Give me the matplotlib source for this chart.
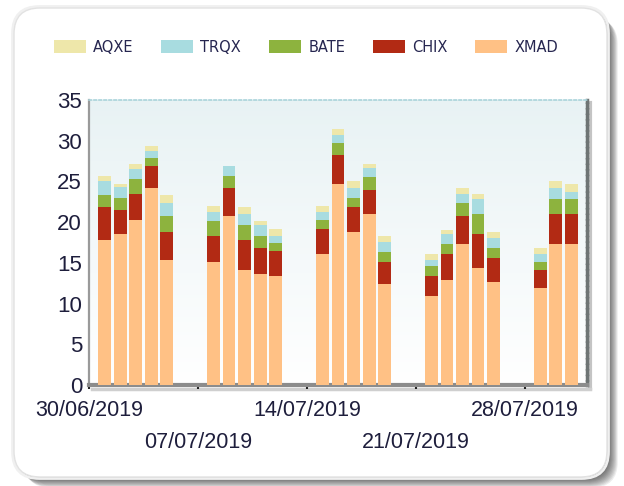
import matplotlib
matplotlib.use('Agg')
import matplotlib.pyplot as plt
import matplotlib.dates as mdates
from matplotlib.patches import FancyBboxPatch
import numpy as np
from datetime import datetime

# ---------------- data ----------------
dates = ["01/07/2019", "02/07/2019", "03/07/2019", "04/07/2019", "05/07/2019",
         "08/07/2019", "09/07/2019", "10/07/2019", "11/07/2019", "12/07/2019",
         "15/07/2019", "16/07/2019", "17/07/2019", "18/07/2019", "19/07/2019",
         "22/07/2019", "23/07/2019", "24/07/2019", "25/07/2019", "26/07/2019",
         "29/07/2019", "30/07/2019", "31/07/2019"]
xmad = [17.8, 18.55, 20.3, 24.2, 15.4,
        15.1, 20.8, 14.1, 13.6, 13.4,
        16.1, 24.7, 18.8, 21.0, 12.4,
        10.9, 12.9, 17.3, 14.4, 12.65,
        11.9, 17.3, 17.3]
chix = [4.0, 2.95, 3.2, 2.7, 3.4,
        3.2, 3.4, 3.75, 3.2, 3.0,
        3.0, 3.5, 3.0, 3.0, 2.7,
        2.5, 3.2, 3.5, 4.15, 2.95,
        2.2, 3.7, 3.7]
bate = [1.5, 1.5, 1.8, 1.0, 2.0,
        1.8, 1.5, 1.75, 1.5, 1.0,
        1.2, 1.5, 1.2, 1.5, 1.2,
        1.2, 1.2, 1.5, 2.45, 1.2,
        1.0, 1.8, 1.8]
trqx = [1.7, 1.3, 1.2, 0.8, 1.5,
        1.2, 1.2, 1.4, 1.3, 0.9,
        1.0, 1.0, 1.2, 1.2, 1.3,
        0.8, 1.25, 1.2, 1.8, 1.25,
        1.0, 1.4, 0.9]
aqxe = [0.7, 0.4, 0.7, 0.7, 1.0,
        0.7, 0.0, 0.8, 0.5, 0.8,
        0.7, 0.7, 0.8, 0.5, 0.7,
        0.7, 0.45, 0.7, 0.7, 0.75,
        0.7, 0.8, 1.0]
series_names = ["XMAD", "CHIX", "BATE", "TRQX", "AQXE"]
series_colors = ["#FFC185", "#B22A14", "#8DB33E", "#A8DCE0", "#EEE7AA"]
row1_ticks = ["30/06/2019", "14/07/2019", "28/07/2019"]
row2_ticks = ["07/07/2019", "21/07/2019"]
x_start, x_end = "30/06/2019", "01/08/2019"
y_ticks = [0, 5, 10, 15, 20, 25, 30, 35]

def d(s):
    return mdates.date2num(datetime.strptime(s, "%d/%m/%Y"))

# ---------------- figure ----------------
W, H = 624, 486
fig = plt.figure(figsize=(W / 100, H / 100), dpi=100)
fig.patch.set_facecolor('white')

bg = fig.add_axes([0, 0, 1, 1], zorder=0)
bg.set_xlim(0, W)
bg.set_ylim(H, 0)
bg.axis('off')
px0, py0, pw, ph = 14, 8, 593, 469
for i in range(1, 13):
    bg.add_patch(FancyBboxPatch((px0 + i * 0.9, py0 + i * 0.9), pw, ph,
                                boxstyle="round,pad=0,rounding_size=26",
                                fc='black', ec='none', alpha=0.07))
bg.add_patch(FancyBboxPatch((px0 - 1.5, py0 - 1.5), pw + 3, ph + 3,
                            boxstyle="round,pad=0,rounding_size=27",
                            fc='none', ec='#f0f0f0', lw=2.0))
bg.add_patch(FancyBboxPatch((px0, py0), pw, ph,
                            boxstyle="round,pad=0,rounding_size=26",
                            fc='white', ec='#e2e2e2', lw=1.0))

# plot area rect (pixels)
L, R, T, B = 89, 587, 100, 385
rect = [L / W, (H - B) / H, (R - L) / W, (B - T) / H]

gax = fig.add_axes(rect, zorder=1)
grad = np.linspace(0, 1, 256).reshape(-1, 1)
top_c = np.array([0.91, 0.95, 0.957])
bot_c = np.array([1.0, 1.0, 1.0])
img = top_c[None, None, :] * (1 - grad[:, :, None]) + bot_c[None, None, :] * grad[:, :, None]
gax.imshow(img, aspect='auto', extent=[0, 1, 0, 1])
gax.axis('off')

ax = fig.add_axes(rect, zorder=2)
ax.set_facecolor('none')

x = np.array([d(s) for s in dates])
values = [xmad, chix, bate, trqx, aqxe]
bottom = np.zeros(len(x))
handles = {}
for name, vals, col in zip(series_names, values, series_colors):
    vals = np.array(vals)
    bc = ax.bar(x, vals, bottom=bottom, width=0.82, color=col, edgecolor='none',
                label=name, zorder=3)
    handles[name] = bc
    bottom += vals

ax.set_xlim(d(x_start), d(x_end))
ax.set_ylim(0, 35)

tc = '#1e1e3c'
ax.set_yticks(y_ticks)
ax.set_yticklabels([str(v) for v in y_ticks], fontsize=16, color=tc,
                   family='Liberation Sans')
ax.tick_params(axis='y', length=0, pad=5)

ax.set_xticks([d(s) for s in row1_ticks])
ax.set_xticklabels(row1_ticks, fontsize=15.5, color=tc, family='Liberation Sans')
ax.set_xticks([d(s) for s in row2_ticks], minor=True)
ax.set_xticklabels(row2_ticks, minor=True, fontsize=15.5, color=tc,
                   family='Liberation Sans')
ax.tick_params(axis='x', which='major', length=3, width=1.5, color='#222222',
               direction='out', pad=8)
ax.tick_params(axis='x', which='minor', length=3, width=1.5, color='#222222',
               direction='out', pad=31)

ax.spines['left'].set_color('#9a9a9a')
ax.spines['left'].set_linewidth(1.6)
ax.spines['bottom'].set_color('#8c8c8c')
ax.spines['bottom'].set_linewidth(3)
ax.spines['top'].set_color('#a9d3da')
ax.spines['top'].set_linewidth(1.2)
ax.spines['top'].set_linestyle((0, (1.5, 1.5)))
ax.spines['right'].set_color('#6e7474')
ax.spines['right'].set_linewidth(2.5)
ax.spines['right'].set_linestyle((0, (1, 0.6)))

# shadow beside right border and under bottom axis
bg.plot([R + 3, R + 3], [T + 3, B + 3], color='#c4c4c4', lw=3, zorder=1)
bg.plot([L + 3, R + 3], [B + 3.5, B + 3.5], color='#cfcfcf', lw=2.5, zorder=1)

legend_order = ["AQXE", "TRQX", "BATE", "CHIX", "XMAD"]
leg = fig.legend([handles[n] for n in legend_order], legend_order,
                 loc='center', bbox_to_anchor=(306 / W, 1 - 47 / H), ncol=5,
                 frameon=False, handlelength=2.2, handleheight=1.05,
                 handletextpad=0.5, columnspacing=1.9,
                 prop={'family': 'DejaVu Sans', 'size': 10.5})
for t in leg.get_texts():
    t.set_color('#262650')

fig.savefig('out.png', dpi=100, facecolor='white')
